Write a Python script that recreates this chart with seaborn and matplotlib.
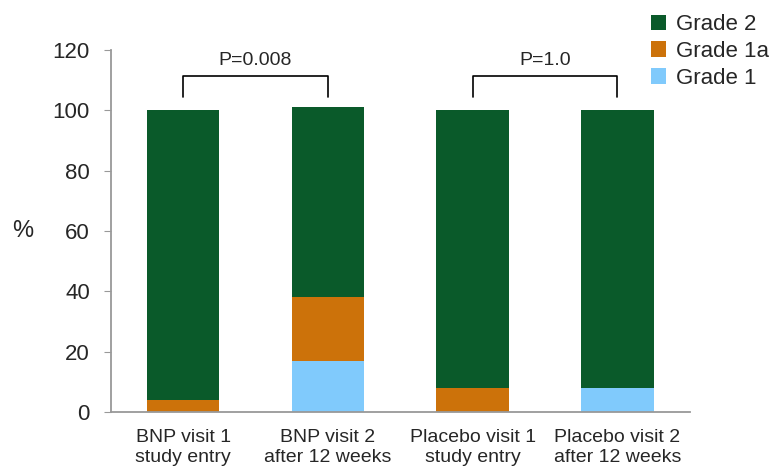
import matplotlib
matplotlib.use("Agg")
import matplotlib.pyplot as plt
import numpy as np
import pandas as pd
import seaborn as sns

CATEGORIES = ["BNP visit 1\nstudy entry", "BNP visit 2\nafter 12 weeks",
              "Placebo visit 1\nstudy entry", "Placebo visit 2\nafter 12 weeks"]
GRADE_1 = [0, 17, 0, 8]
GRADE_1A = [4, 21, 8, 0]
GRADE_2 = [96, 63, 92, 92]
P_LABELS = ["P=0.008", "P=1.0"]
P_PAIRS = [(0, 1), (2, 3)]

COLORS = {"Grade 2": "#0a5a2a", "Grade 1a": "#cc720a", "Grade 1": "#80cafc"}

sns.set_style("white")
plt.rcParams["font.family"] = ["Liberation Sans", "DejaVu Sans"]

df = pd.DataFrame({"cat": CATEGORIES, "g1": GRADE_1, "g1a": GRADE_1A, "g2": GRADE_2})
b1a = np.array(GRADE_1)
b2 = b1a + np.array(GRADE_1A)

fig = plt.figure(figsize=(7.75, 4.66), dpi=100)
ax = fig.add_axes([0.143, 0.116, 0.747, 0.777])

bar_kw = dict(width=0.5, saturation=1, linewidth=0, ax=ax)
sns.barplot(data=df, x="cat", y="g1", color=COLORS["Grade 1"], label="Grade 1", **bar_kw)
sns.barplot(data=df, x="cat", y="g1a", bottom=b1a, color=COLORS["Grade 1a"],
            label="Grade 1a", **bar_kw)
sns.barplot(data=df, x="cat", y="g2", bottom=b2, color=COLORS["Grade 2"],
            label="Grade 2", **bar_kw)
if ax.get_legend() is not None:
    ax.get_legend().remove()

ax.set_ylim(0, 120)
ax.set_xlim(-0.5, 3.5)
ax.set_yticks(range(0, 121, 20))
ax.set_xlabel("")
ax.set_ylabel("%", rotation=0, fontsize=17, ha="center", va="center")
ax.yaxis.set_label_coords(-0.152, 0.5)
ax.tick_params(axis="y", labelsize=16, length=5, color="#999999", direction="out",
               left=True, pad=10)
ax.tick_params(axis="x", labelsize=14, length=0, pad=12)
for t in ax.get_xticklabels():
    t.set_linespacing(1.25)
sns.despine(ax=ax)
for s in ["left", "bottom"]:
    ax.spines[s].set_color("#999999")
    ax.spines[s].set_linewidth(1.3)

# significance brackets
for (i, j), lab in zip(P_PAIRS, P_LABELS):
    ax.plot([i, i, j, j], [104.5, 111.5, 111.5, 104.5], color="black", lw=1.2)
    ax.text((i + j) / 2, 113.5, lab, ha="center", va="bottom", fontsize=14)

handles, labels = ax.get_legend_handles_labels()
fig.legend(handles[::-1], labels[::-1], loc="upper left", bbox_to_anchor=(0.814, 1.012),
           frameon=False, fontsize=16, handlelength=0.7, handleheight=0.7,
           handletextpad=0.45, labelspacing=0.25)

fig.savefig("out.png", dpi=100)
